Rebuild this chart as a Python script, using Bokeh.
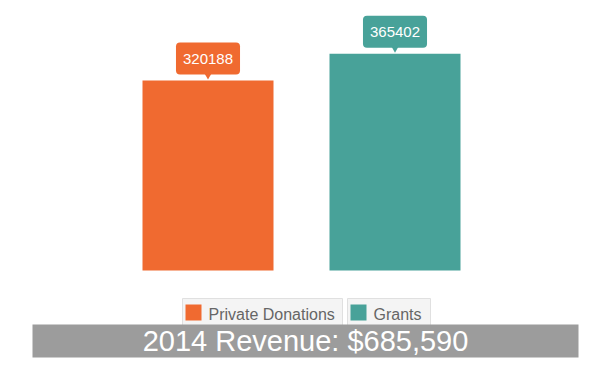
from bokeh.plotting import figure
from bokeh.models import FactorRange, Range1d, ColumnDataSource
from bokeh.core.properties import value
from bokeh.embed import file_html
from bokeh.resources import INLINE

# ---- data ----
categories = ["Private Donations", "Grants"]
revenue = [320188, 365402]
colors = ["#f06a30", "#48a299"]
value_labels = [str(v) for v in revenue]
year = 2014
title_text = f"{year} Revenue: ${sum(revenue):,}"

# ---- layout helpers (page pixel -> data) ----
FONT = value("Liberation Sans")
W, H = 602, 375
LEFT, TOP = 0, 0
ZERO = 270.0      # page y of value 0
K = 1686.0        # value units per pixel
PXU = 187.0       # pixels per category step
pad = (W / PXU - len(categories)) / 2


def X(px):
    return -pad + (px - LEFT) / PXU


def Y(py):
    return (ZERO - py) * K


p = figure(width=W, height=H,
           x_range=FactorRange(*categories, range_padding=pad),
           y_range=Range1d(Y(TOP + H), Y(TOP)),
           output_backend="svg", toolbar_location=None,
           x_axis_location=None, y_axis_location=None,
           min_border=0)
p.grid.visible = False
p.outline_line_color = None
p.background_fill_color = "white"
p.border_fill_color = "white"

src = ColumnDataSource(dict(cat=categories, val=revenue, color=colors, label=value_labels))

# bars
p.vbar(x="cat", top="val", width=131 / PXU, source=src,
       fill_color="color", line_color=None)

# callout pointers
ptr = ColumnDataSource(dict(cat=categories, y=[v + 8 * K for v in revenue], color=colors))
p.scatter(x="cat", y="y", marker="inverted_triangle", size=12, source=ptr,
          fill_color="color", line_color=None)

# callout labels
p.text(x="cat", y="val", text="label", source=src,
       text_color="white", text_font=FONT, text_font_size="15px",
       text_align="center", text_baseline="middle", y_offset=-22,
       background_fill_color="color", border_line_color=None,
       padding=dict(left=7, right=7, top=11, bottom=11), border_radius=4)

# legend (one box per item)
item_lefts = [182, 347]
item_widths = [160, 83]
leg = ColumnDataSource(dict(
    left=[X(l) for l in item_lefts],
    right=[X(l + w) for l, w in zip(item_lefts, item_widths)],
    sl=[X(l + 3) for l in item_lefts],
    sr=[X(l + 19) for l in item_lefts],
    tx=[X(l + 26) for l in item_lefts],
    color=colors, label=categories))
p.quad(left="left", right="right", top=Y(298), bottom=Y(330), source=leg,
       fill_color="#f4f4f4", line_color="#e0e0e0", line_width=1)
p.quad(left="sl", right="sr", top=Y(304), bottom=Y(320), source=leg,
       fill_color="color", line_color=None)
p.text(x="tx", y=Y(313.5), text="label", source=leg,
       text_color="#666666", text_font=FONT, text_font_size="16px",
       text_align="left", text_baseline="middle")

# title banner
p.quad(left=X(32), right=X(578), top=Y(324), bottom=Y(357),
       fill_color="#9c9c9c", line_color=None)
p.text(x=[X(305)], y=[Y(340.5)], text=[title_text],
       text_color="white", text_font=FONT, text_font_size="29px",
       text_align="center", text_baseline="middle")

open("out.html", "w").write(file_html(p, INLINE))
